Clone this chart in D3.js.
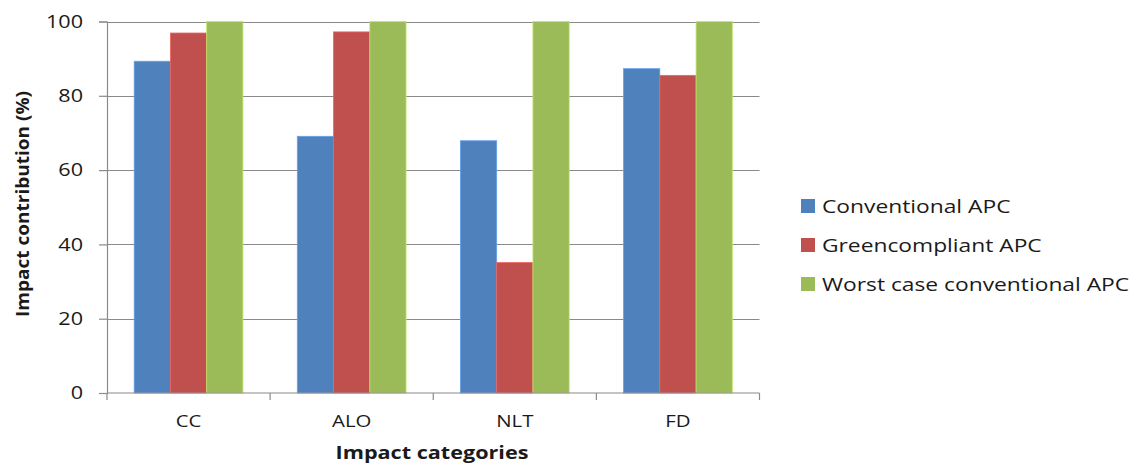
<!DOCTYPE html>
<html>
<head>
<meta charset="utf-8">
<script src="https://cdn.jsdelivr.net/npm/d3@7"></script>
<style>
  html, body { margin: 0; padding: 0; background: #fff; }
  svg { display: block; }
  text { font-family: "Open Sans", "DejaVu Sans", sans-serif; fill: #1a1a1a; }
</style>
</head>
<body>
<svg id="chart" width="1134" height="463"></svg>
<script>
// Impact categories and series values (%)
const categories = ["CC", "ALO", "NLT", "FD"];
const seriesNames = ["Conventional APC", "Greencompliant APC", "Worst case conventional APC"];
const conventional = [89.3, 69.1, 67.9, 87.3];
const greencompliant = [96.9, 97.2, 35.1, 85.5];
const worstCase = [100, 100, 100, 100];
const yTicks = [0, 20, 40, 60, 80, 100];
const colors = ["#4F81BD", "#C0504D", "#9BBB59"];

const seriesValues = [conventional, greencompliant, worstCase];

// Text is drawn slightly wide, as in the original spreadsheet export
const STRETCH = 1.2;

const svg = d3.select("#chart");
const plot = { left: 107, right: 759.5, top: 21.5, bottom: 393 };

const x0 = d3.scaleBand()
  .domain(categories)
  .range([plot.left, plot.right])
  .paddingInner(0)
  .paddingOuter(0);

const x1 = d3.scaleBand()
  .domain(seriesNames)
  .range([0, x0.bandwidth()])
  .paddingOuter(0.75)
  .paddingInner(0);

const y = d3.scaleLinear().domain([0, 100]).range([plot.bottom, plot.top]);

// Horizontal gridlines
svg.append("g")
  .selectAll("line")
  .data(yTicks.filter(t => t > 0))
  .join("line")
  .attr("x1", plot.left).attr("x2", plot.right)
  .attr("y1", d => Math.round(y(d)) + 0.5).attr("y2", d => Math.round(y(d)) + 0.5)
  .attr("stroke", "#8a8a8a").attr("stroke-width", 1.2);

// Bars
const groups = svg.append("g")
  .selectAll("g")
  .data(categories)
  .join("g")
  .attr("transform", d => `translate(${x0(d)},0)`);

groups.selectAll("rect")
  .data((c, i) => seriesNames.map((s, j) => ({ s, j, v: seriesValues[j][i] })))
  .join("rect")
  .attr("x", d => x1(d.s))
  .attr("width", x1.bandwidth())
  .attr("y", d => y(d.v))
  .attr("height", d => y(0) - y(d.v))
  .attr("fill", d => colors[d.j])
  .attr("stroke", d => d3.color(colors[d.j]).brighter(0.6))
  .attr("stroke-width", 0.8);

// Y axis
const yAxis = d3.axisLeft(y).tickValues(yTicks).tickSize(8).tickPadding(16);
const yg = svg.append("g").attr("transform", `translate(${plot.left},0)`).call(yAxis);
yg.select(".domain").attr("stroke", "#8a8a8a").attr("stroke-width", 1.2);
yg.selectAll(".tick line").attr("stroke", "#8a8a8a").attr("stroke-width", 1.2);
yg.selectAll(".tick text")
  .style("font-family", "'Open Sans', sans-serif")
  .style("font-size", "18px")
  .attr("fill", "#1a1a1a")
  .attr("x", null)
  .attr("transform", `translate(-24,0) scale(${STRETCH},1)`);

// X axis with tick marks at category boundaries
const xg = svg.append("g").attr("transform", `translate(0,${plot.bottom})`);
xg.append("line")
  .attr("x1", plot.left).attr("x2", plot.right)
  .attr("stroke", "#8a8a8a").attr("stroke-width", 1.2);
const boundaries = categories.map(c => x0(c)).concat([x0(categories[categories.length - 1]) + x0.bandwidth()]);
xg.selectAll("line.tk")
  .data(boundaries)
  .join("line")
  .attr("class", "tk")
  .attr("x1", d => d).attr("x2", d => d)
  .attr("y1", 0).attr("y2", 7)
  .attr("stroke", "#8a8a8a").attr("stroke-width", 1.2);
xg.selectAll("text.cat")
  .data(categories)
  .join("text")
  .attr("class", "cat")
  .attr("transform", d => `translate(${x0(d) + x0.bandwidth() / 2},34) scale(${STRETCH},1)`)
  .attr("text-anchor", "middle")
  .style("font-size", "17px")
  .text(d => d);

// Axis titles
svg.append("text")
  .attr("transform", `translate(29,204) rotate(-90) scale(1.12,1)`)
  .attr("text-anchor", "middle")
  .style("font-size", "17px")
  .style("font-weight", "bold")
  .attr("fill", "#111")
  .text("Impact contribution (%)");

svg.append("text")
  .attr("transform", `translate(432,459) scale(${STRETCH},1)`)
  .attr("text-anchor", "middle")
  .style("font-size", "18px")
  .style("font-weight", "bold")
  .attr("fill", "#111")
  .text("Impact categories");

// Legend
const legend = svg.append("g").attr("transform", "translate(801,206)");
const items = legend.selectAll("g")
  .data(seriesNames)
  .join("g")
  .attr("transform", (d, i) => `translate(0,${i * 39})`);
items.append("rect")
  .attr("x", 0).attr("y", -7)
  .attr("width", 14).attr("height", 14)
  .attr("fill", (d, i) => colors[i]);
items.append("text")
  .attr("transform", `translate(21,0) scale(${STRETCH},1)`)
  .attr("dy", "0.35em")
  .style("font-size", "19px")
  .text(d => d);
</script>
</body>
</html>
